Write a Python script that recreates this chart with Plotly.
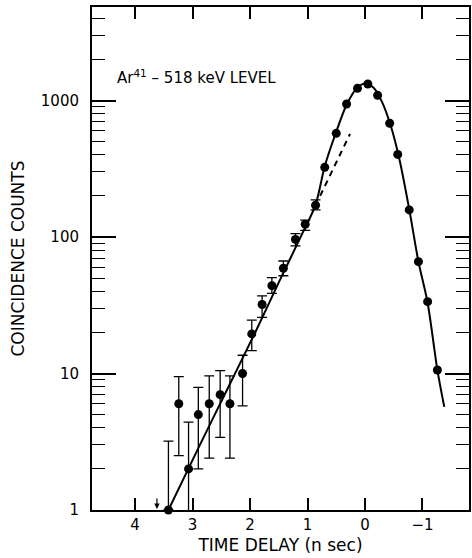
import plotly.graph_objects as go

# ---- data ----
time_ns = [3.42, 3.24, 3.07, 2.90, 2.71, 2.52, 2.35, 2.13, 1.97, 1.79, 1.62, 1.42, 1.21, 1.04, 0.86,
           0.70, 0.50, 0.32, 0.13, -0.05, -0.22, -0.43, -0.57, -0.77, -0.93, -1.09, -1.26]
counts = [1.0, 6.0, 2.0, 5.0, 6.0, 7.0, 6.0, 10.0, 19.5, 32.0, 44.0, 59.0, 96.0, 124.0, 171.0,
          324.0, 575.0, 942.0, 1228.0, 1321.0, 1091.0, 681.0, 403.0, 158.0, 66.0, 33.6, 10.6]
# error bar bounds (first 15 points only)
err_upper = [3.2, 9.5, 4.4, 7.9, 9.6, 10.5, 9.6, 13.6, 24.6, 37.0, 50.4, 66.7, 106.0, 133.0, 187.0]
err_lower = [1.0, 2.5, 0.05, 2.0, 2.4, 3.4, 2.4, 5.8, 14.7, 25.8, 38.7, 52.0, 86.0, 112.0, 158.0]

# fitted curve (solid) and extrapolated exponential (dashed)
fit_t = [3.42, 2.9, 2.4, 1.9, 1.5, 1.1, 0.86, 0.70, 0.50, 0.32, 0.15, 0.0,
         -0.15, -0.30, -0.45, -0.60, -0.77, -0.93, -1.09, -1.26, -1.38]
fit_counts = [1.0, 2.84, 7.6, 20.4, 46.5, 104.0, 172.0, 330.0, 590.0, 930.0, 1220.0, 1330.0,
              1240.0, 970.0, 650.0, 370.0, 160.0, 66.0, 33.0, 10.6, 5.7]
dash_t = [0.78, 0.26]
dash_counts = [200.0, 570.0]

x_ticks = [4, 3, 2, 1, 0, -1]
x_ticktext = ["4", "3", "2", "1", "0", "\u22121"]
y_ticks = [1, 10, 100, 1000]
y_ticktext = ["1", "10", "100", "1000"]
y_minor = [m * d for d in (1, 10, 100, 1000) for m in range(2, 10)]

FONT = "DejaVu Sans"
n_err = len(err_upper)
plus = [u - c for u, c in zip(err_upper, counts[:n_err])]
minus = [c - l for c, l in zip(counts[:n_err], err_lower)]

fig = go.Figure()
fig.add_trace(go.Scatter(x=fit_t, y=fit_counts, mode="lines",
                         line=dict(color="black", width=2, shape="spline", smoothing=0.8),
                         hoverinfo="skip"))
fig.add_trace(go.Scatter(x=dash_t, y=dash_counts, mode="lines",
                         line=dict(color="black", width=2, dash="6px,5px"), hoverinfo="skip"))
fig.add_trace(go.Scatter(x=time_ns[:n_err], y=counts[:n_err], mode="markers",
                         marker=dict(size=1, color="black"),
                         error_y=dict(type="data", symmetric=False, array=plus, arrayminus=minus,
                                      color="black", thickness=1.3, width=5),
                         cliponaxis=True))
fig.add_trace(go.Scatter(x=time_ns, y=counts, mode="markers",
                         marker=dict(size=9, color="black"), cliponaxis=False))

fig.add_annotation(x=3.62, y=0.0, xref="x", yref="y", ax=0, ay=-13, showarrow=True,
                   arrowhead=2, arrowsize=0.9, arrowwidth=1.2, arrowcolor="black", text="", standoff=1)
fig.add_annotation(xref="paper", yref="paper", x=0.06, y=0.86, xanchor="left", yanchor="middle",
                   text="Ar<sup>41</sup> \u2013 518 keV LEVEL", showarrow=False,
                   font=dict(family=FONT, size=15, color="black"))

fig.update_layout(
    width=472, height=558, showlegend=False,
    margin=dict(l=92, r=1, t=7, b=48),
    paper_bgcolor="white", plot_bgcolor="white",
    font=dict(family=FONT, color="black"),
)
fig.update_xaxes(range=[4.75, -1.81], tickvals=x_ticks, ticktext=x_ticktext,
                 ticks="inside", ticklen=12, tickwidth=1.5, tickcolor="black",
                 showline=True, linecolor="black", linewidth=2, mirror="ticks",
                 showgrid=False, zeroline=False,
                 tickfont=dict(family=FONT, size=15),
                 title=dict(text="TIME DELAY (n sec)", font=dict(family=FONT, size=17), standoff=6))
fig.update_yaxes(type="log", range=[0, 3.685], tickvals=y_ticks, ticktext=y_ticktext,
                 ticks="inside", ticklen=24, tickwidth=1.5, tickcolor="black",
                 minor=dict(tickmode="array", tickvals=y_minor, ticks="inside", ticklen=13,
                            tickwidth=1.3, tickcolor="black", showgrid=False),
                 showline=True, linecolor="black", linewidth=2, mirror="ticks",
                 showgrid=False, zeroline=False, ticklabelstandoff=8,
                 tickfont=dict(family=FONT, size=15),
                 title=dict(text="COINCIDENCE COUNTS", font=dict(family=FONT, size=17), standoff=12))

fig.write_html("out.html", config={"displayModeBar": False},
               post_script="document.body.style.margin='0';document.body.style.overflow='hidden';")
